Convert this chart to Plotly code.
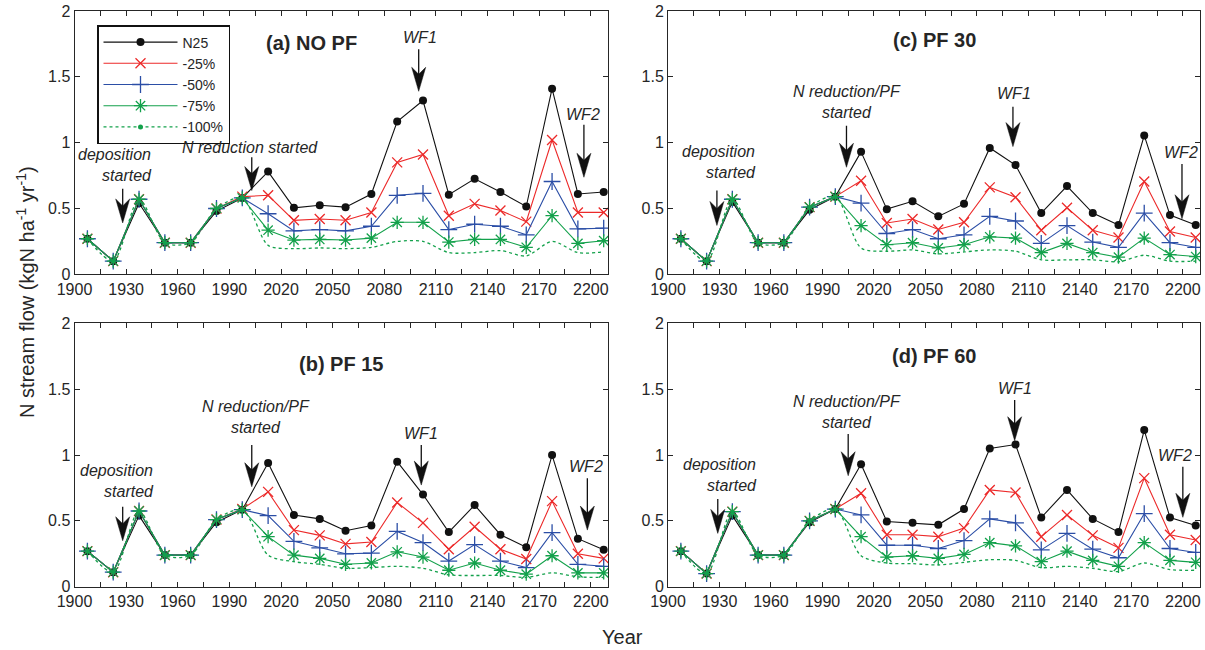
import plotly.graph_objects as go

# ---------------- data ----------------
years = [1907.5, 1922.5, 1937.5, 1952.5, 1967.5, 1982.5, 1997.5, 2012.5, 2027.5, 2042.5,
         2057.5, 2072.5, 2087.5, 2102.5, 2117.5, 2132.5, 2147.5, 2162.5, 2177.5, 2192.5, 2207.5]

series_names = ["N25", "-25%", "-50%", "-75%", "-100%"]

# (a) NO PF
a_n25 = [0.27, 0.10, 0.54, 0.24, 0.24, 0.48, 0.58, 0.78, 0.505, 0.525, 0.51, 0.61, 1.16, 1.32, 0.605, 0.725, 0.625, 0.515, 1.41, 0.61, 0.625]
a_m25 = [0.27, 0.10, 0.57, 0.24, 0.24, 0.50, 0.59, 0.60, 0.41, 0.42, 0.41, 0.47, 0.85, 0.91, 0.445, 0.535, 0.485, 0.40, 1.02, 0.47, 0.47]
a_m50 = [0.27, 0.10, 0.57, 0.24, 0.24, 0.50, 0.58, 0.46, 0.33, 0.34, 0.33, 0.365, 0.60, 0.615, 0.34, 0.38, 0.365, 0.30, 0.705, 0.345, 0.35]
a_m75 = [0.27, 0.10, 0.57, 0.24, 0.24, 0.50, 0.58, 0.335, 0.26, 0.265, 0.26, 0.275, 0.395, 0.395, 0.245, 0.265, 0.265, 0.205, 0.445, 0.235, 0.255]
a_m100 = [0.27, 0.10, 0.57, 0.24, 0.24, 0.50, 0.58, 0.22, 0.195, 0.20, 0.195, 0.205, 0.25, 0.25, 0.165, 0.165, 0.18, 0.14, 0.25, 0.165, 0.17]

# (b) PF 15
b_n25 = [0.27, 0.11, 0.54, 0.24, 0.24, 0.49, 0.585, 0.94, 0.545, 0.515, 0.425, 0.465, 0.95, 0.70, 0.415, 0.62, 0.395, 0.30, 1.00, 0.365, 0.28]
b_m25 = [0.27, 0.11, 0.575, 0.24, 0.24, 0.51, 0.59, 0.72, 0.43, 0.39, 0.325, 0.34, 0.64, 0.485, 0.285, 0.455, 0.285, 0.21, 0.65, 0.25, 0.215]
b_m50 = [0.27, 0.11, 0.575, 0.24, 0.24, 0.51, 0.585, 0.54, 0.345, 0.295, 0.25, 0.255, 0.42, 0.335, 0.195, 0.32, 0.195, 0.145, 0.41, 0.17, 0.155]
b_m75 = [0.27, 0.11, 0.575, 0.24, 0.24, 0.51, 0.585, 0.38, 0.24, 0.215, 0.17, 0.18, 0.265, 0.225, 0.125, 0.18, 0.125, 0.095, 0.235, 0.105, 0.105]
b_m100 = [0.27, 0.11, 0.575, 0.24, 0.24, 0.51, 0.585, 0.24, 0.19, 0.17, 0.14, 0.145, 0.155, 0.14, 0.09, 0.085, 0.085, 0.07, 0.105, 0.075, 0.07]

# (c) PF 30
c_n25 = [0.27, 0.10, 0.55, 0.24, 0.24, 0.49, 0.59, 0.93, 0.495, 0.555, 0.44, 0.535, 0.96, 0.83, 0.465, 0.67, 0.465, 0.375, 1.055, 0.45, 0.375]
c_m25 = [0.27, 0.10, 0.57, 0.24, 0.24, 0.51, 0.59, 0.71, 0.39, 0.42, 0.34, 0.395, 0.66, 0.585, 0.335, 0.505, 0.335, 0.28, 0.705, 0.325, 0.28]
c_m50 = [0.27, 0.10, 0.57, 0.24, 0.24, 0.51, 0.59, 0.54, 0.31, 0.34, 0.27, 0.30, 0.44, 0.405, 0.235, 0.37, 0.245, 0.205, 0.465, 0.24, 0.205]
c_m75 = [0.27, 0.10, 0.57, 0.24, 0.24, 0.51, 0.59, 0.37, 0.225, 0.24, 0.20, 0.225, 0.285, 0.275, 0.165, 0.235, 0.165, 0.13, 0.275, 0.15, 0.135]
c_m100 = [0.27, 0.10, 0.57, 0.24, 0.24, 0.51, 0.59, 0.20, 0.175, 0.185, 0.155, 0.17, 0.185, 0.175, 0.11, 0.11, 0.11, 0.095, 0.145, 0.10, 0.10]

# (d) PF 60
d_n25 = [0.27, 0.10, 0.54, 0.24, 0.24, 0.49, 0.59, 0.93, 0.495, 0.485, 0.47, 0.59, 1.05, 1.08, 0.525, 0.735, 0.515, 0.415, 1.19, 0.525, 0.465]
d_m25 = [0.27, 0.10, 0.57, 0.24, 0.24, 0.50, 0.59, 0.71, 0.395, 0.395, 0.38, 0.445, 0.735, 0.715, 0.38, 0.545, 0.39, 0.295, 0.825, 0.395, 0.355]
d_m50 = [0.27, 0.10, 0.57, 0.24, 0.24, 0.50, 0.59, 0.545, 0.315, 0.315, 0.29, 0.35, 0.515, 0.485, 0.28, 0.405, 0.285, 0.22, 0.555, 0.29, 0.26]
d_m75 = [0.27, 0.10, 0.57, 0.24, 0.24, 0.50, 0.59, 0.38, 0.225, 0.235, 0.215, 0.245, 0.335, 0.31, 0.19, 0.27, 0.20, 0.155, 0.335, 0.20, 0.185]
d_m100 = [0.27, 0.10, 0.57, 0.24, 0.24, 0.50, 0.59, 0.235, 0.18, 0.175, 0.165, 0.185, 0.205, 0.20, 0.145, 0.155, 0.14, 0.115, 0.18, 0.13, 0.125]

panel_titles = {"a": "(a) NO PF", "b": "(b) PF 15", "c": "(c) PF 30", "d": "(d) PF 60"}

x_tickvals = [1900, 1930, 1960, 1990, 2020, 2050, 2080, 2110, 2140, 2170, 2200]
x_ticktext = ["1900", "1930", "1960", "1990", "2020", "2050", "2080", "2110", "2140", "2170", "2200"]
x_minor_tickvals = [1915, 1945, 1975, 2005, 2035, 2065, 2095, 2125, 2155, 2185]
y_tickvals = [0, 0.5, 1, 1.5, 2]
y_ticktext = ["0", "0.5", "1", "1.5", "2"]

# ---------------- styling ----------------
FONT = "Liberation Sans, Arial, Helvetica, sans-serif"
AX = "#262626"
BLACK = "#111111"
RED = "#ec2a2a"
BLUE = "#2b4ea6"
GREEN = "#13a14b"

styles = [
    dict(mode="lines+markers", line=dict(color=BLACK, width=1.1),
         marker=dict(symbol="circle", size=8, color=BLACK)),
    dict(mode="lines+markers", line=dict(color=RED, width=1.1),
         marker=dict(symbol="x-thin", size=10, color=RED, line=dict(color=RED, width=1.3))),
    dict(mode="lines+markers", line=dict(color=BLUE, width=1.1),
         marker=dict(symbol="cross-thin", size=12, color=BLUE, line=dict(color=BLUE, width=1.3))),
    dict(mode="lines+markers", line=dict(color=GREEN, width=1.1),
         marker=dict(symbol="asterisk", size=11, color=GREEN, line=dict(color=GREEN, width=1.3))),
    dict(mode="lines", line=dict(color=GREEN, width=1.3, dash="dot", shape="spline", smoothing=0.8)),
]

panel_data = {
    "a": [a_n25, a_m25, a_m50, a_m75, a_m100],
    "b": [b_n25, b_m25, b_m50, b_m75, b_m100],
    "c": [c_n25, c_m25, c_m50, c_m75, c_m100],
    "d": [d_n25, d_m25, d_m50, d_m75, d_m100],
}
axis_ids = {"a": ("x", "y"), "c": ("x2", "y2"), "b": ("x3", "y3"), "d": ("x4", "y4")}

fig = go.Figure()
for p in ["a", "c", "b", "d"]:
    xa, ya = axis_ids[p]
    for i, (name, vals) in enumerate(zip(series_names, panel_data[p])):
        show = (p == "a" and i < 4)
        fig.add_trace(go.Scatter(x=years, y=vals, name=name, xaxis=xa, yaxis=ya,
                                 showlegend=show, legendrank=i + 1, hoverinfo="skip",
                                 **styles[i]))

# legend entry for the dotted series (line with small dot)
fig.add_trace(go.Scatter(x=[None], y=[None], name="-100%", mode="lines+markers",
                         line=dict(color=GREEN, width=1.3, dash="dot"),
                         marker=dict(symbol="circle", size=5, color=GREEN),
                         showlegend=True, legendrank=5, xaxis="x", yaxis="y"))

# ---------------- axes ----------------
xd_left = [74.5 / 1205, 608 / 1205]
xd_right = [668 / 1205, 1200 / 1205]
yd_top = [1 - 274.3 / 650, 1 - 11 / 650]
yd_bot = [1 - 586.7 / 650, 1 - 323.4 / 650]

def xax(domain, anchor):
    return dict(domain=domain, anchor=anchor, range=[1900, 2210], tickmode="array",
                tickvals=x_tickvals, ticktext=x_ticktext, ticks="inside", ticklen=5,
                tickwidth=1, tickcolor=AX, showline=True, linecolor=AX, linewidth=1,
                mirror="ticks", showgrid=False, zeroline=False,
                minor=dict(tickmode="array", tickvals=x_minor_tickvals, ticks="inside",
                           ticklen=5, tickwidth=1, tickcolor=AX, showgrid=False),
                tickfont=dict(family=FONT, size=16, color=AX), automargin=False)

def yax(domain, anchor):
    return dict(domain=domain, anchor=anchor, range=[0, 2], tickmode="array",
                tickvals=y_tickvals, ticktext=y_ticktext, ticks="inside", ticklen=5,
                tickwidth=1, tickcolor=AX, showline=True, linecolor=AX, linewidth=1,
                mirror="ticks", showgrid=False, zeroline=False,
                tickfont=dict(family=FONT, size=16, color=AX), automargin=False)

fig.update_layout(
    xaxis=xax(xd_left, "y"), yaxis=yax(yd_top, "x"),
    xaxis2=xax(xd_right, "y2"), yaxis2=yax(yd_top, "x2"),
    xaxis3=xax(xd_left, "y3"), yaxis3=yax(yd_bot, "x3"),
    xaxis4=xax(xd_right, "y4"), yaxis4=yax(yd_bot, "x4"),
)

# ---------------- annotations ----------------
ann = []
title_pos = {"a": (2038, 1.76), "b": (2055, 1.69), "c": (2055, 1.78), "d": (2055, 1.755)}
for p, (tx, ty) in title_pos.items():
    xa, ya = axis_ids[p]
    ann.append(dict(x=tx, y=ty, xref=xa, yref=ya, text="<b>" + panel_titles[p] + "</b>",
                    showarrow=False, font=dict(family=FONT, size=20, color=AX)))

# (panel, x, y, text, xanchor, align)
labels = [
    ("a", 1946, 0.83, "deposition<br>started", "right", "right"),
    ("a", 2002, 0.965, "N reduction started", "center", "center"),
    ("a", 2100.5, 1.80, "WF1", "center", "center"),
    ("a", 2195.5, 1.215, "WF2", "center", "center"),
    ("b", 1947.5, 0.80, "deposition<br>started", "right", "right"),
    ("b", 2005.5, 1.29, "N reduction/PF<br>started", "center", "center"),
    ("b", 2101.5, 1.165, "WF1", "center", "center"),
    ("b", 2197.5, 0.91, "WF2", "center", "center"),
    ("c", 1952.5, 0.855, "deposition<br>started", "right", "right"),
    ("c", 2004.5, 1.31, "N reduction/PF<br>started", "center", "center"),
    ("c", 2101.5, 1.37, "WF1", "center", "center"),
    ("c", 2199, 0.925, "WF2", "center", "center"),
    ("d", 1953, 0.85, "deposition<br>started", "right", "right"),
    ("d", 2004.5, 1.33, "N reduction/PF<br>started", "center", "center"),
    ("d", 2102, 1.505, "WF1", "center", "center"),
    ("d", 2195.5, 1.0, "WF2", "center", "center"),
]
for p, x, y, t, xan, al in labels:
    xa, ya = axis_ids[p]
    ann.append(dict(x=x, y=y, xref=xa, yref=ya, text=t, showarrow=False, xanchor=xan,
                    align=al, font=dict(family=FONT, size=16, color=AX, style="italic")))

ann.append(dict(x=622 / 1205, y=1 - 637 / 650, xref="paper", yref="paper", text="Year",
                showarrow=False, xanchor="center", yanchor="middle",
                font=dict(family=FONT, size=20, color=AX)))
ann.append(dict(x=25 / 1205, y=1 - 292 / 650, xref="paper", yref="paper",
                text="N stream flow (kgN ha<sup>-1</sup> yr<sup>-1</sup>)", textangle=-90,
                showarrow=False, xanchor="center", yanchor="middle",
                font=dict(family=FONT, size=20, color=AX)))

# ---------------- arrows (shaft + notched head) ----------------
# (panel, x, y_tail, y_tip)
arrows = [
    ("a", 1928, 0.65, 0.39), ("a", 2003, 0.89, 0.636), ("a", 2100, 1.71, 1.39), ("a", 2196, 1.136, 0.737),
    ("b", 1928, 0.608, 0.349), ("b", 2003, 1.076, 0.759), ("b", 2101.5, 1.076, 0.772), ("b", 2198, 0.823, 0.43),
    ("c", 1928.5, 0.636, 0.371), ("c", 2004, 1.129, 0.813), ("c", 2101, 1.273, 0.97), ("c", 2199.5, 0.838, 0.422),
    ("d", 1929, 0.666, 0.405), ("d", 2005, 1.16, 0.843), ("d", 2102, 1.418, 1.109), ("d", 2200, 0.911, 0.527),
]
HW = 7 / 1.72      # half width of head (years)
HL = 24 / 131.7    # head length (y units)
HN = 7 / 131.7     # notch depth
shapes = []
for p, x, yt, yh in arrows:
    xa, ya = axis_ids[p]
    shapes.append(dict(type="line", xref=xa, yref=ya, x0=x, x1=x, y0=yt, y1=yh + HL * 0.5,
                       line=dict(color=BLACK, width=1.3)))
    path = (f"M {x - HW},{yh + HL} L {x},{yh} L {x + HW},{yh + HL} "
            f"L {x},{yh + HL - HN} Z")
    shapes.append(dict(type="path", xref=xa, yref=ya, path=path, fillcolor=BLACK,
                       line=dict(color=BLACK, width=0.5)))

fig.update_layout(
    width=1205, height=650,
    margin=dict(l=0, r=0, t=0, b=0),
    paper_bgcolor="white", plot_bgcolor="white",
    font=dict(family=FONT, color=AX),
    annotations=ann, shapes=shapes,
    legend=dict(x=97 / 1205, y=1 - 25 / 650, xanchor="left", yanchor="top",
                bgcolor="white", bordercolor=BLACK, borderwidth=1.5,
                font=dict(family=FONT, size=14, color=AX), itemwidth=74,
                traceorder="normal", tracegroupgap=0),
)

fig.write_html("out.html", config={"displayModeBar": False},
               post_script="document.body.style.margin='0';document.body.style.padding='0';")
